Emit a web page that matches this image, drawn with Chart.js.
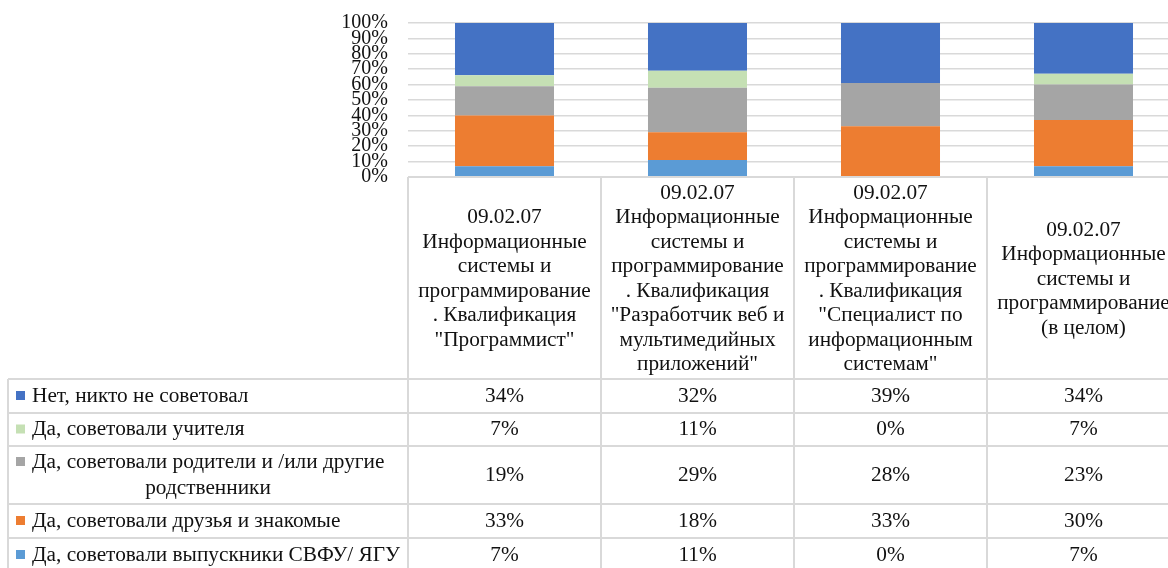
<!DOCTYPE html>
<html>
<head>
<meta charset="utf-8">
<script src="https://cdn.jsdelivr.net/npm/chart.js@4/dist/chart.umd.min.js"></script>
<style>
  html, body { margin: 0; padding: 0; background: #fff; overflow: hidden; }
  #wrap { width: 1190px; height: 568px; }
</style>
</head>
<body>
<div id="wrap"><canvas id="c" width="1190" height="568"></canvas></div>
<script>
// categories (one entry per column, already split into lines as in the source)
const categories = [
  ['09.02.07', 'Информационные', 'системы и', 'программирование', '. Квалификация', '"Программист"'],
  ['09.02.07', 'Информационные', 'системы и', 'программирование', '. Квалификация', '"Разработчик веб и', 'мультимедийных', 'приложений"'],
  ['09.02.07', 'Информационные', 'системы и', 'программирование', '. Квалификация', '"Специалист по', 'информационным', 'системам"'],
  ['09.02.07', 'Информационные', 'системы и', 'программирование', '(в целом)'],
];

// series, in table order (top row first)
const seriesLabels = [
  'Нет, никто не советовал',
  'Да, советовали учителя',
  'Да, советовали родители и /или другие родственники',
  'Да, советовали друзья и знакомые',
  'Да, советовали выпускники СВФУ/ ЯГУ',
];
const noOne      = [34, 32, 39, 34];
const teachers   = [7, 11, 0, 7];
const parents    = [19, 29, 28, 23];
const friends    = [33, 18, 33, 30];
const graduates  = [7, 11, 0, 7];
const seriesValues = [noOne, teachers, parents, friends, graduates];
const seriesColors = ['#4472C4', '#C5E0B4', '#A5A5A5', '#ED7D31', '#5B9BD5'];

const yTicks = [0, 10, 20, 30, 40, 50, 60, 70, 80, 90, 100];

const FONT = "'Liberation Serif', 'Times New Roman', serif";
const TXT = '#111';
const LINE = '#D9D9D9';

// table geometry
const HEAD_BOTTOM = 379;
const ROW_EDGES = [379, 413, 446, 504, 538, 572];
const LABEL_LEFT = 8;
const HEAD_LH = 24.5;

const tablePlugin = {
  id: 'dataTable',
  afterDraw(chart) {
    const { ctx, chartArea: a, scales: { x } } = chart;
    const n = categories.length;
    const colW = x.width / n;
    const edges = [];
    for (let i = 0; i <= n; i++) edges.push(x.left + colW * i);
    const farRight = chart.width;

    ctx.save();
    ctx.strokeStyle = LINE;
    ctx.lineWidth = 2;
    ctx.beginPath();
    // header top
    ctx.moveTo(x.left, a.bottom); ctx.lineTo(farRight, a.bottom);
    // header verticals
    edges.forEach(e => { ctx.moveTo(e, a.bottom); ctx.lineTo(e, HEAD_BOTTOM); });
    // row horizontals
    ROW_EDGES.forEach(y => { ctx.moveTo(LABEL_LEFT, y); ctx.lineTo(farRight, y); });
    // row verticals
    [LABEL_LEFT, ...edges].forEach(e => { ctx.moveTo(e, HEAD_BOTTOM); ctx.lineTo(e, ROW_EDGES[ROW_EDGES.length - 1]); });
    ctx.stroke();

    ctx.fillStyle = TXT;
    ctx.font = '21.3px ' + FONT;
    ctx.textAlign = 'center';
    ctx.textBaseline = 'middle';

    // header text
    const headMid = (a.bottom + HEAD_BOTTOM) / 2 + 1;
    categories.forEach((lines, i) => {
      const cx = x.getPixelForValue(i);
      const y0 = headMid - (lines.length - 1) * HEAD_LH / 2;
      lines.forEach((t, k) => ctx.fillText(t, cx, y0 + k * HEAD_LH));
    });

    // rows
    const textLeft = 32;
    const maxW = x.left - textLeft - 2;
    seriesLabels.forEach((label, r) => {
      const top = ROW_EDGES[r], bot = ROW_EDGES[r + 1];
      // wrap label
      const words = label.split(' ');
      const lines = [];
      let cur = '';
      words.forEach(w => {
        const t = cur ? cur + ' ' + w : w;
        if (ctx.measureText(t).width > maxW && cur) { lines.push(cur); cur = w; }
        else cur = t;
      });
      lines.push(cur);
      const rowMid = (top + bot) / 2;
      const firstY = rowMid - (lines.length - 1) * 13;
      ctx.fillStyle = seriesColors[r];
      ctx.fillRect(16, firstY - 5, 9, 9);
      ctx.fillStyle = TXT;
      lines.forEach((t, k) => {
        if (k === 0) { ctx.textAlign = 'left'; ctx.fillText(t, textLeft, firstY); }
        else { ctx.textAlign = 'center'; ctx.fillText(t, (LABEL_LEFT + x.left) / 2, firstY + k * 26); }
      });
      ctx.textAlign = 'center';
      seriesValues[r].forEach((v, i) => {
        ctx.fillText(v + '%', x.getPixelForValue(i), rowMid);
      });
    });
    ctx.restore();
  }
};

// datasets stack bottom-up, so reverse the table order
const datasets = seriesLabels.map((label, r) => ({
  label,
  data: seriesValues[r],
  backgroundColor: seriesColors[r],
  borderWidth: 0,
  barPercentage: 0.513,
  categoryPercentage: 1,
})).reverse();

new Chart(document.getElementById('c'), {
  type: 'bar',
  data: { labels: categories.map(c => c.join(' ')), datasets },
  options: {
    responsive: false,
    animation: false,
    layout: { padding: { top: 23, right: 10, bottom: 391, left: 0 } },
    plugins: { legend: { display: false }, tooltip: { enabled: false } },
    scales: {
      x: { stacked: true, display: false },
      y: {
        stacked: true,
        min: 0,
        max: 100,
        afterFit(s) { s.width = 408; s.paddingTop = 0; s.paddingBottom = 0; },
        afterBuildTicks(s) { s.ticks = yTicks.map(v => ({ value: v })); },
        grid: { color: LINE, lineWidth: 1.5, drawTicks: false },
        border: { display: false },
        ticks: {
          autoSkip: false,
          padding: 20,
          color: TXT,
          font: { family: FONT, size: 20 },
          callback: v => v + '%',
        },
      },
    },
  },
  plugins: [tablePlugin],
});
</script>
</body>
</html>
